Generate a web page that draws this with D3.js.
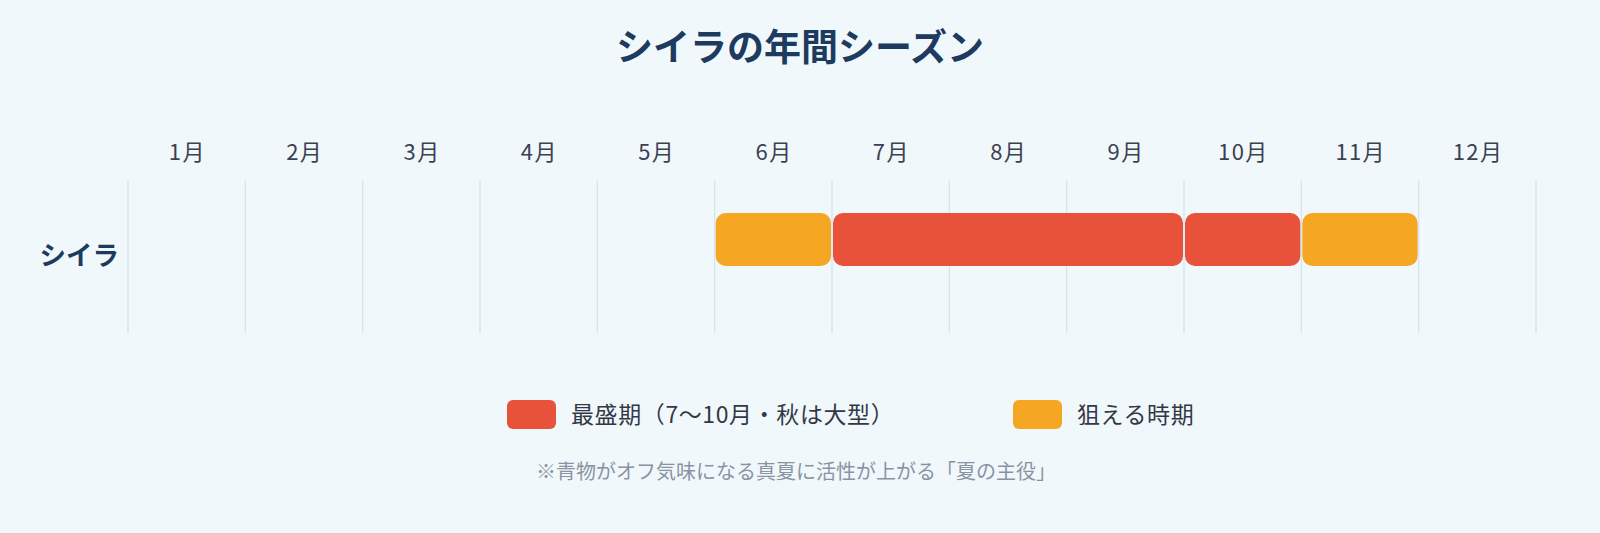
<!DOCTYPE html>
<html>
<head>
<meta charset="utf-8">
<script src="https://cdn.jsdelivr.net/npm/d3@7"></script>
<style>
  html, body { margin: 0; padding: 0; background: #f1f8fc; }
  svg { display: block; font-family: "Noto Sans CJK JP", "Noto Sans", sans-serif; }
</style>
</head>
<body>
<svg id="chart" width="1600" height="533"></svg>
<script>
// data
var months = ["1月","2月","3月","4月","5月","6月","7月","8月","9月","10月","11月","12月"];
var rows = ["シイラ"];
var periods = [
	{row: "シイラ", start: 6, end: 6, type: "target"},
	{row: "シイラ", start: 7, end: 9, type: "peak"},
	{row: "シイラ", start: 10, end: 10, type: "peak"},
	{row: "シイラ", start: 11, end: 11, type: "target"}
];
var legendItems = [
	{type: "peak", label: "最盛期（7〜10月・秋は大型）"},
	{type: "target", label: "狙える時期"}
];
var title = "シイラの年間シーズン";
var note = "※青物がオフ気味になる真夏に活性が上がる「夏の主役」";

var colors = {peak: "#e8523a", target: "#f5a724"};

var svg = d3.select("#chart");
var width = 1600;

var x = d3.scaleLinear().domain([1, 13]).range([128, 1536]);
var xb = d3.scaleBand().domain(months).range([128, 1536]);
var y = d3.scaleBand().domain(rows).range([180, 333]);

// title
svg.append("text")
	.attr("x", width / 2)
	.attr("y", 48)
	.attr("dy", "0.35em")
	.attr("text-anchor", "middle")
	.style("font-size", "37px")
	.style("font-weight", "700")
	.style("fill", "#1c3b5e")
	.text(title);

// month labels
svg.append("g").selectAll("text")
	.data(months)
	.enter().append("text")
		.attr("x", function(d) { return xb(d) + xb.bandwidth() / 2 + 0.7; })
		.attr("y", 152)
		.attr("dy", "0.35em")
		.attr("text-anchor", "middle")
		.style("font-size", "22px")
		.style("letter-spacing", "1.4px")
		.style("fill", "#3b4150")
		.text(function(d) { return d; });

// grid
svg.append("g").selectAll("line")
	.data(d3.range(1, 14))
	.enter().append("line")
		.attr("x1", function(d) { return x(d); })
		.attr("x2", function(d) { return x(d); })
		.attr("y1", y.range()[0])
		.attr("y2", y.range()[1])
		.style("stroke", "#d3e3ef")
		.style("stroke-width", 1.2);

// row labels
svg.append("g").selectAll("text")
	.data(rows)
	.enter().append("text")
		.attr("x", 119)
		.attr("y", function(d) { return y(d) + 76; })
		.attr("dy", "0.35em")
		.attr("text-anchor", "end")
		.style("font-size", "26.5px")
		.style("font-weight", "700")
		.style("fill", "#1c3b5e")
		.text(function(d) { return d; });

// bars
var barH = 53;
svg.append("g").selectAll("rect")
	.data(periods)
	.enter().append("rect")
		.attr("x", function(d) { return x(d.start) + 1; })
		.attr("width", function(d) { return x(d.end + 1) - x(d.start) - 2; })
		.attr("y", function(d) { return y(d.row) + 33; })
		.attr("height", barH)
		.attr("rx", 10)
		.style("fill", function(d) { return colors[d.type]; });

// legend
var legendX = [507, 1013];
var lg = svg.append("g").selectAll("g")
	.data(legendItems)
	.enter().append("g")
		.attr("transform", function(d, i) { return "translate(" + legendX[i] + ",400)"; });
lg.append("rect")
	.attr("width", 49)
	.attr("height", 29)
	.attr("rx", 6)
	.style("fill", function(d) { return colors[d.type]; });
lg.append("text")
	.attr("x", 64)
	.attr("y", 14.5)
	.attr("dy", "0.35em")
	.style("font-size", "23px")
	.style("letter-spacing", "0.6px")
	.style("fill", "#333846")
	.text(function(d) { return d.label; });

// note
svg.append("text")
	.attr("x", 796)
	.attr("y", 472)
	.attr("dy", "0.35em")
	.attr("text-anchor", "middle")
	.style("font-size", "20px")
	.style("fill", "#8a93a3")
	.text(note);
</script>
</body>
</html>
